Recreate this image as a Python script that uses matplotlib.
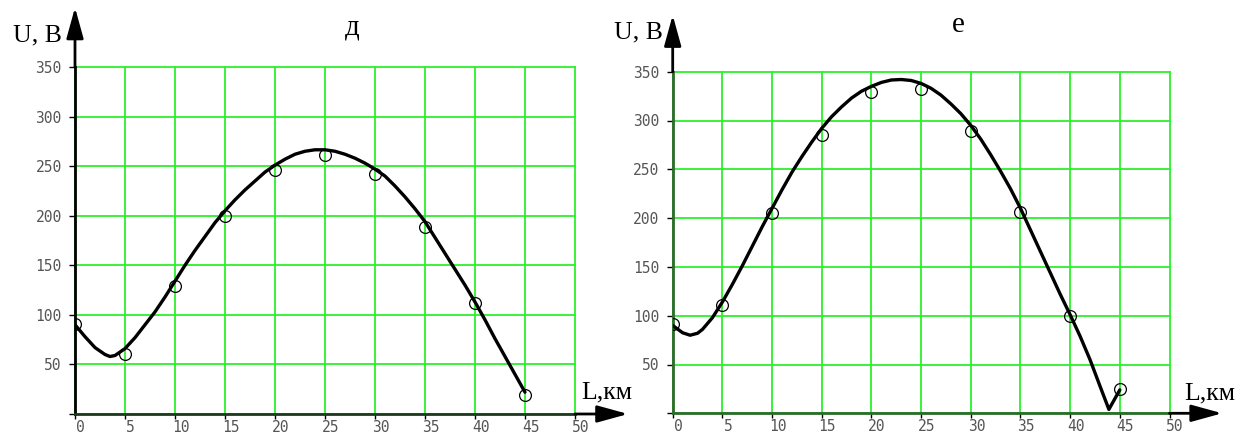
import numpy as np
import matplotlib
matplotlib.use("Agg")
import matplotlib.pyplot as plt
from matplotlib.transforms import ScaledTranslation

# measured points (L, km -> U, V)
L_pts = [0, 5, 10, 15, 20, 25, 30, 35, 40, 45]
U_d = [91, 61, 129, 200, 246, 261, 242, 189, 112, 19]
U_e = [91, 111, 205, 285, 329, 332, 289, 206, 100, 25]

# fitted curves
L_curve_d = [0, 1, 2, 3, 3.5, 4, 5, 6, 7, 8, 9, 10, 11, 12, 13, 14, 15, 16, 17, 18, 19,
             20, 21, 22, 23, 24, 25, 26, 27, 28, 29, 30, 31, 32, 33, 34, 35, 36, 37,
             38, 39, 40, 41, 42, 43, 44, 45]
U_curve_d = [90, 78, 67, 60, 58, 59, 66, 77, 90, 103, 118, 134, 150, 165, 179, 193, 205,
             216, 226, 235, 244, 251, 257, 262, 265, 266.5, 266.5, 265, 262, 258, 253,
             247, 240, 230, 219, 207, 194, 178, 162, 146, 130, 113, 95, 76, 58, 40, 22]

L_curve_e = [0, 1, 1.75, 2.5, 3, 4, 5, 6, 7, 8, 9, 10, 11, 12, 13, 14, 15, 16, 17, 18,
             19, 20, 21, 22, 23, 24, 25, 26, 27, 28, 29, 30, 31, 32, 33, 34, 35, 36,
             37, 38, 39, 40, 41, 42, 43, 43.9, 45]
U_curve_e = [90, 82.5, 80, 82, 86, 98, 114, 132, 151, 171, 191, 210, 229, 247, 263, 278,
             292, 304, 314, 323, 330, 335, 339, 341.5, 342, 341, 338, 333, 326,
             317, 307, 295, 281, 265, 248, 230, 210, 188, 166, 144, 122, 101, 79, 55,
             28, 4, 24]

x_ticks = np.arange(0, 51, 5)
y_ticks = np.arange(0, 351, 50)

W, H = 1240, 434
fig = plt.figure(figsize=(W / 100, H / 100), dpi=100)
fig.patch.set_facecolor("white")

serif = ["Liberation Serif", "DejaVu Serif"]
grid_col = "#2cf02c"
arrow_style = "-|>,head_length=1.45,head_width=0.4"


def panel(rect, Lc, Uc, Up, xaxis_col, yaxis_col, y_tip):
    ax = fig.add_axes(rect)
    ax.set_xlim(0, 50)
    ax.set_ylim(0, 350)
    ax.set_xticks(x_ticks)
    ax.set_yticks(y_ticks)
    ax.set_xticklabels([str(v) for v in x_ticks])
    ax.set_yticklabels([""] + [str(v) for v in y_ticks[1:]])
    ax.grid(True, color=grid_col, lw=1.3)
    ax.set_axisbelow(True)
    for gl in ax.get_xgridlines() + ax.get_ygridlines():
        gl.set_clip_on(False)
    for s in ("top", "right"):
        ax.spines[s].set_visible(False)
    ax.spines["left"].set_color(yaxis_col)
    ax.spines["left"].set_linewidth(2.0)
    ax.spines["bottom"].set_color(xaxis_col)
    ax.spines["bottom"].set_linewidth(2.0)
    ax.tick_params(axis="x", direction="out", length=3.5, width=1, color="k",
                   labelcolor="#555555", labelsize=10.5, pad=0.5)
    ax.tick_params(axis="y", direction="out", length=4.5, width=1, color="k",
                   labelcolor="#555555", labelsize=10.5, pad=5)
    for lbl in ax.get_xticklabels() + ax.get_yticklabels():
        lbl.set_family("DejaVu Sans Mono")
    for lbl in ax.get_xticklabels():
        lbl.set_transform(lbl.get_transform() + ScaledTranslation(4 / 72, 0, fig.dpi_scale_trans))

    ax.plot(Lc, Uc, color="k", lw=2.4, solid_capstyle="round",
            solid_joinstyle="round", zorder=3)
    ax.plot(L_pts, Up, "o", mfc="none", mec="k", ms=8.5, mew=0.9, zorder=4)

    # axis arrows
    ax.annotate("", xy=(55.3, 0), xytext=(50, 0), annotation_clip=False,
                arrowprops=dict(arrowstyle=arrow_style, color="k", lw=2,
                                shrinkA=0, shrinkB=0, mutation_scale=13))
    ax.annotate("", xy=(0, y_tip), xytext=(0, 350), annotation_clip=False,
                arrowprops=dict(arrowstyle=arrow_style, color="k", lw=2,
                                shrinkA=0, shrinkB=0, mutation_scale=13))
    return ax


panel([75 / W, 20 / H, 500 / W, 347 / H], L_curve_d, U_curve_d, U_d,
      "#1c3a1c", "k", 410)
panel([672.7 / W, 20.7 / H, 496.8 / W, 341.6 / H], L_curve_e, U_curve_e, U_e,
      "#2f6a2f", "#2f6a2f", 408)

fig.text(352 / W, 1 - 34 / H, "д", family=serif, fontsize=21, ha="center", va="baseline")
fig.text(958 / W, 1 - 32 / H, "е", family=serif, fontsize=21, ha="center", va="baseline")
fig.text(13 / W, 1 - 41 / H, "U, B", family=serif, fontsize=18.5, ha="left", va="baseline")
fig.text(614 / W, 1 - 38 / H, "U, B", family=serif, fontsize=18.5, ha="left", va="baseline")
fig.text(581 / W, 1 - 398 / H, "L,км", family=serif, fontsize=18.5, ha="left", va="baseline")
fig.text(1184 / W, 1 - 399 / H, "L,км", family=serif, fontsize=18.5, ha="left", va="baseline")

fig.savefig("out.png", dpi=100, facecolor="white")
